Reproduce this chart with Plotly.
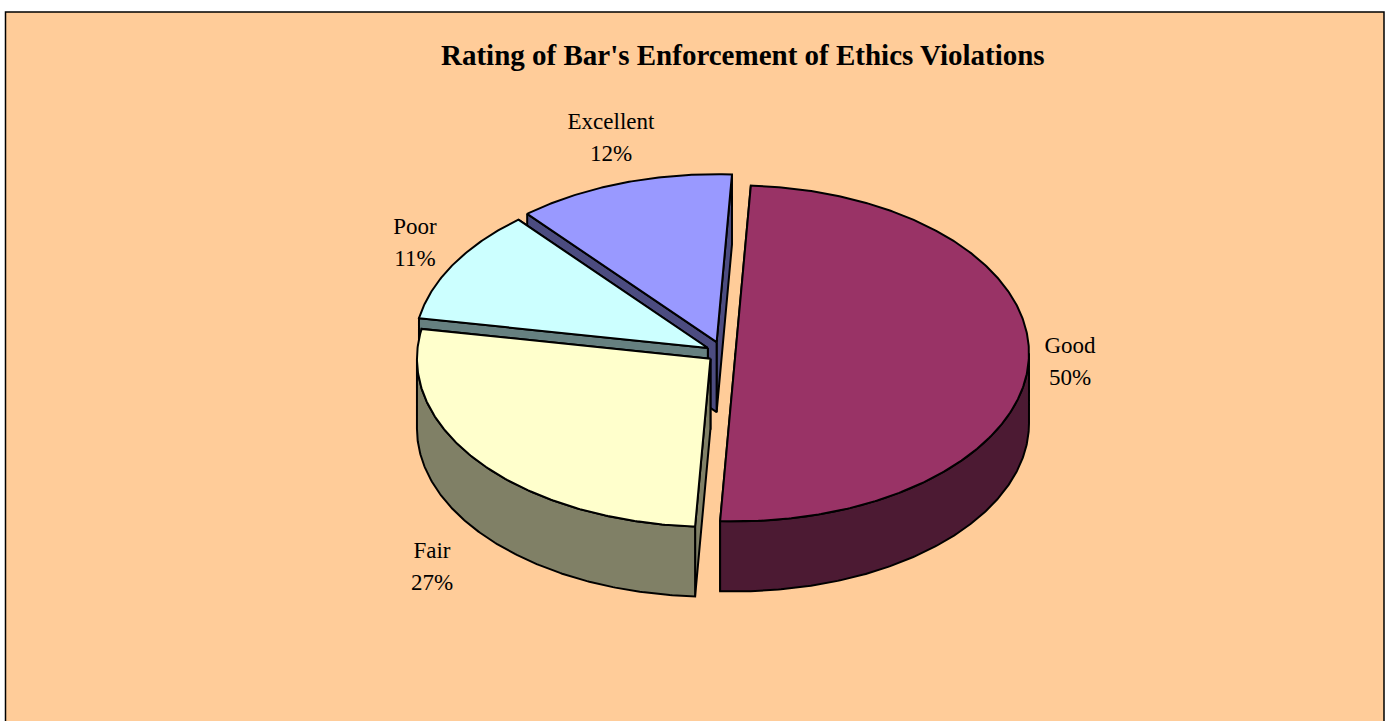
import numpy as np
import plotly.graph_objects as go

# --- data ---
categories = ["Good", "Fair", "Poor", "Excellent"]
values = [50, 27, 11, 12]
explode = [12.5, 16, 17.5, 20]
top_colors = ["#993366", "#FFFFCC", "#CCFFFF", "#9999FF"]
side_colors = ["#4C1A33", "#808066", "#668080", "#4C4C80"]
label_x = [1070, 432, 415, 611]
label_y = [347, 552, 228, 123]

# --- layout / projection settings ---
W, H = 1388, 721
CX, CY = 723, 353
RX, RY = 293.5, 168
DEPTH = 70
ROTATION = 3
FONT = "Liberation Serif"


def project(cx, cy, deg):
    rad = np.radians(deg)
    return cx + RX * np.sin(rad), cy - RY * np.cos(rad)


fig = go.Figure()


def poly(xs, ys, color):
    fig.add_trace(go.Scatter(
        x=list(xs), y=list(ys), mode="lines", fill="toself", fillcolor=color,
        line=dict(color="black", width=2), hoverinfo="skip", showlegend=False))


total = sum(values)
start = ROTATION
slices = []
for v, e, tc, sc in zip(values, explode, top_colors, side_colors):
    end = start + 360 * v / total
    mid = np.radians((start + end) / 2)
    cx = CX + e * np.sin(mid)
    cy = CY - e * (RY / RX) * np.cos(mid)
    slices.append((start, end, cx, cy, tc, sc))
    start = end

# painter's order: back slices first
for s, e, cx, cy, tc, sc in reversed(slices):
    angles = np.linspace(s, e, int(abs(e - s)) * 2 + 2)
    ax, ay = project(cx, cy, angles)
    # cut faces: the clockwise-end face first so the start face sits over it
    for a in (e, s):
        tx, ty = project(cx, cy, a)
        poly([cx, tx, tx, cx, cx], [cy, ty, ty + DEPTH, cy + DEPTH, cy], sc)
    # outer rim: only the part of the arc that faces the viewer
    lo, hi = max(s, 90), min(e, 270)
    if hi > lo:
        front = np.linspace(lo, hi, int(hi - lo) * 2 + 2)
        fx, fy = project(cx, cy, front)
        poly(np.r_[fx, fx[::-1], fx[0]], np.r_[fy, fy[::-1] + DEPTH, fy[0]], sc)
    # top surface
    poly(np.r_[cx, ax, cx], np.r_[cy, ay, cy], tc)

# labels
line_gap = 32
fig.add_trace(go.Scatter(
    x=label_x + label_x,
    y=label_y + [y + line_gap for y in label_y],
    mode="text",
    text=categories + [f"{v}%" for v in values],
    textposition="middle center",
    textfont=dict(family=FONT, size=23, color="black"),
    hoverinfo="skip", showlegend=False))

fig.update_layout(
    width=W, height=H,
    margin=dict(l=0, r=0, t=0, b=0),
    paper_bgcolor="white", plot_bgcolor="white",
    showlegend=False,
    xaxis=dict(range=[0, W], visible=False, fixedrange=True),
    yaxis=dict(range=[H, 0], visible=False, fixedrange=True),
    shapes=[dict(type="rect", xref="x", yref="y", x0=5.5, x1=1384, y0=12, y1=H + 20,
                 fillcolor="#FFCC99", line=dict(color="black", width=1.5), layer="below")],
    annotations=[dict(text="<b>Rating of Bar's Enforcement of Ethics Violations</b>",
                      x=743, y=55, xref="x", yref="y", showarrow=False,
                      font=dict(family=FONT, size=29, color="black"))],
)

fig.write_html("out.html", config=dict(displayModeBar=False),
               post_script="document.body.style.margin='0';document.documentElement.style.overflow='hidden';")
